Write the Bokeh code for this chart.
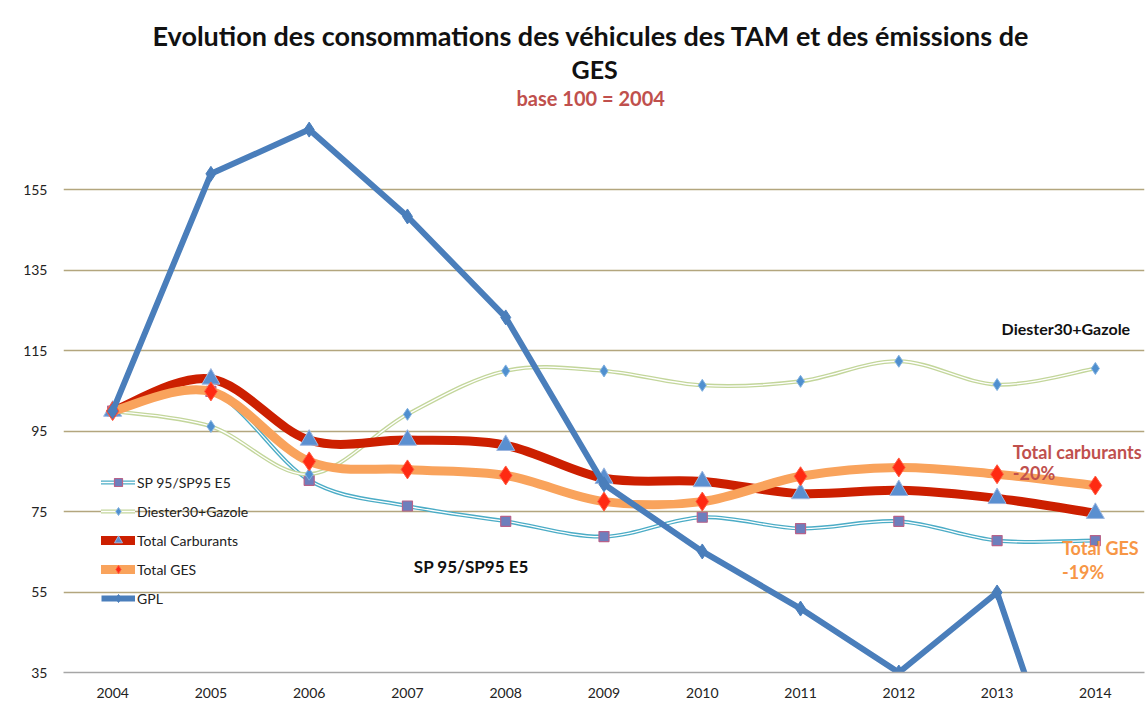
from bokeh.plotting import figure
from bokeh.models import Range1d, FixedTicker, Legend, LegendItem, Label, Title, ColumnDataSource
from bokeh.embed import file_html
from bokeh.resources import INLINE

years = [2004, 2005, 2006, 2007, 2008, 2009, 2010, 2011, 2012, 2013, 2014]
sp95 = [100, 104.9, 82.8, 76.4, 72.6, 68.8, 73.6, 70.8, 72.6, 67.8, 67.8]
diester = [100, 96.2, 84.3, 99.2, 110, 110, 106.4, 107.4, 112.4, 106.6, 110.6]
total_carb = [100, 108, 92.8, 92.8, 91.5, 83.3, 82.5, 79.5, 80.3, 78.3, 74.6]
total_ges = [100, 104.9, 87.5, 85.5, 84, 77.5, 77.5, 83.8, 86, 84.3, 81.5]
gpl = [100, 159, 170, 148.4, 123.3, 81.8, 65.1, 50.9, 35, 54.9, -17]
y_ticks = [35, 55, 75, 95, 115, 135, 155]

FONT = "Lato"


def smooth_source(xs, ys):
    """Bezier segments (Excel-style smoothing) built from the data points."""
    n = len(xs)
    d = dict(x0=[], y0=[], x1=[], y1=[], cx0=[], cy0=[], cx1=[], cy1=[])
    for i in range(n - 1):
        a = i - 1 if i > 0 else i
        b = i + 2 if i + 2 < n else i + 1
        d["x0"].append(xs[i]); d["y0"].append(ys[i])
        d["x1"].append(xs[i + 1]); d["y1"].append(ys[i + 1])
        d["cx0"].append(xs[i] + (xs[i + 1] - xs[a]) / 6)
        d["cy0"].append(ys[i] + (ys[i + 1] - ys[a]) / 6)
        d["cx1"].append(xs[i + 1] - (xs[b] - xs[i]) / 6)
        d["cy1"].append(ys[i + 1] - (ys[b] - ys[i]) / 6)
    return ColumnDataSource(d)


p = figure(frame_width=1081, frame_height=563, output_backend="svg", toolbar_location=None,
           x_range=Range1d(2003.5, 2014.5), y_range=Range1d(35, 175), title=None,
           min_border_left=63, min_border_right=2, min_border_top=0, min_border_bottom=0)
p.margin = (16, 0, 0, 0)
p.background_fill_color = "white"
p.border_fill_color = "white"
p.outline_line_color = None

# axes
p.xaxis.ticker = FixedTicker(ticks=years)
p.yaxis.ticker = FixedTicker(ticks=y_ticks)
for ax in (p.xaxis[0], p.yaxis[0]):
    ax.major_tick_line_color = None
    ax.minor_tick_line_color = None
    ax.major_tick_out = 0
    ax.major_tick_in = 0
    ax.minor_tick_out = 0
    ax.major_label_text_font = FONT
    ax.major_label_text_font_size = "14px"
    ax.major_label_text_color = "#222222"
p.yaxis.axis_line_color = None
p.yaxis.major_label_standoff = 16
p.xaxis.axis_line_color = "#a6a6a6"
p.xaxis.axis_line_width = 1.5
p.xaxis.major_label_standoff = 15
p.xgrid.grid_line_color = None
p.ygrid.grid_line_color = "#b3a67e"
p.ygrid.grid_line_width = 1.5

# SP 95 / SP95 E5 (double cyan line)
s_sp = smooth_source(years, sp95)
r_sp_o = p.bezier("x0", "y0", "x1", "y1", "cx0", "cy0", "cx1", "cy1", source=s_sp,
                  line_color="#4bacc6", line_width=4, line_cap="round")
r_sp_i = p.bezier("x0", "y0", "x1", "y1", "cx0", "cy0", "cx1", "cy1", source=s_sp,
                  line_color="white", line_width=1.3, line_cap="round")
r_sp_m = p.scatter(years, sp95, marker="square", size=10, fill_color="#6d7fbd",
                   line_color="#b7628a", line_width=1.2)

# Diester30+Gazole (double pale green line)
s_di = smooth_source(years, diester)
r_di_o = p.bezier("x0", "y0", "x1", "y1", "cx0", "cy0", "cx1", "cy1", source=s_di,
                  line_color="#c3d69b", line_width=4, line_cap="round")
r_di_i = p.bezier("x0", "y0", "x1", "y1", "cx0", "cy0", "cx1", "cy1", source=s_di,
                  line_color="white", line_width=1.3, line_cap="round")
r_di_m = p.scatter(years, diester, marker="diamond", size=12, fill_color="#4f8fcf",
                   line_color="#7fb0df", line_width=1)

# Total Carburants (thick red)
s_tc = smooth_source(years, total_carb)
r_tc = p.bezier("x0", "y0", "x1", "y1", "cx0", "cy0", "cx1", "cy1", source=s_tc,
                line_color="#cc1f00", line_width=9, line_cap="round")
r_tc_m = p.scatter(years, total_carb, marker="triangle", size=18, fill_color="#5a8fd0",
                   line_color="#9db7e0", line_width=1)

# Total GES (thick orange)
s_ges = smooth_source(years, total_ges)
r_ges = p.bezier("x0", "y0", "x1", "y1", "cx0", "cy0", "cx1", "cy1", source=s_ges,
                 line_color="#f9a35c", line_width=9, line_cap="round")
r_ges_m = p.scatter(years, total_ges, marker="diamond", size=19, fill_color="#ff2a12",
                    line_color="#ff5a40", line_width=1)

# GPL (straight thick blue)
r_gpl = p.line(years, gpl, line_color="#4a7ebb", line_width=6, line_join="round")
r_gpl_m = p.scatter(years, gpl, marker="diamond", size=15, fill_color="#4a7ebb",
                    line_color="#4a7ebb")

legend = Legend(items=[
    LegendItem(label="SP 95/SP95 E5", renderers=[r_sp_o, r_sp_i, r_sp_m]),
    LegendItem(label="Diester30+Gazole", renderers=[r_di_o, r_di_i, r_di_m]),
    LegendItem(label="Total Carburants", renderers=[r_tc, r_tc_m]),
    LegendItem(label="Total GES", renderers=[r_ges, r_ges_m]),
    LegendItem(label="GPL", renderers=[r_gpl, r_gpl_m]),
], location=(38, 64), orientation="vertical", padding=0, margin=0, spacing=9,
    glyph_width=34, glyph_height=20, label_height=20, label_standoff=2,
    label_text_font=FONT, label_text_font_size="14px", label_text_color="#222222",
    border_line_color=None, background_fill_alpha=0)
p.add_layout(legend, "center")

# annotations
def note(x, y, text, color, size, align="left"):
    p.add_layout(Label(x=x, y=y, text=text, text_color=color, text_font=FONT,
                       text_font_style="bold", text_font_size=size,
                       text_align=align, text_baseline="middle"))

note(2013.7, 120.6, "Diester30+Gazole", "#111111", "16px", "center")
note(2013.16, 89.8, "Total carburants", "#c0504d", "18px")
note(2013.16, 84.5, "-20%", "#c0504d", "18px")
note(2013.66, 66.0, "Total GES", "#f79646", "18px")
note(2013.66, 60.0, "-19%", "#f79646", "18px")
note(2007.65, 61.4, "SP 95/SP95 E5", "#111111", "17px", "center")

# titles (first added is closest to the plot)
p.add_layout(Title(text="base 100 = 2004", align="left", text_font=FONT, text_font_style="bold",
                   text_font_size="20px", text_color="#c0504d", standoff=0, offset=453), "above")
p.add_layout(Title(text="GES", align="left", text_font=FONT, text_font_style="bold",
                   text_font_size="25px", text_color="#111111", standoff=0, offset=508), "above")
p.add_layout(Title(text="Evolution des consommations des véhicules des TAM et des émissions de",
                   align="left", text_font=FONT, text_font_style="bold",
                   text_font_size="27px", text_color="#111111", standoff=0, offset=89), "above")

open("out.html", "w").write(file_html(p, INLINE))
